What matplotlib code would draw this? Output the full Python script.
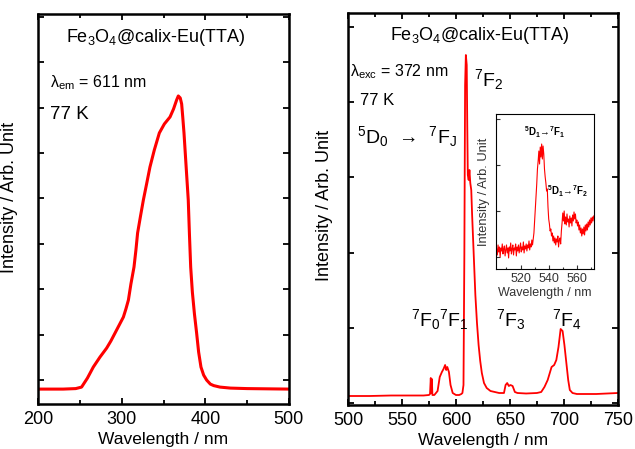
import matplotlib
matplotlib.use("Agg")
import matplotlib.pyplot as plt
import numpy as np

plt.rcParams['font.family'] = ['Liberation Sans', 'DejaVu Sans']
plt.rcParams['mathtext.fontset'] = 'custom'
plt.rcParams['mathtext.rm'] = 'Liberation Sans'
plt.rcParams['mathtext.it'] = 'Liberation Sans:italic'
plt.rcParams['mathtext.bf'] = 'Liberation Sans:bold'

# excitation spectrum (lambda_em = 611 nm)
exc_wl = [200, 230, 245, 252, 259, 266, 274, 282, 287, 292, 297, 302, 305, 308,
          311, 314.7, 317, 319, 322.5, 325.9, 330, 333.8, 339, 345, 351, 357.8,
          362, 365.7, 367.7, 370, 371.7, 373, 374.5, 377, 379.6, 381, 382.5,
          384.5, 387, 389.6, 392, 394.8, 398, 401.6, 406, 410, 417.5, 430, 450, 500]
exc_int = [15, 15, 15.5, 17, 26, 37, 47, 56, 63, 71, 79, 87, 95, 104,
           120, 137, 154, 171, 188, 204, 221, 237, 254, 271, 280, 287,
           295, 304, 308, 306, 300, 287, 271, 238, 204, 170, 137,
           112, 90, 71, 52, 37, 29, 24, 20, 18.5, 17, 16, 15.5, 15]

# emission spectrum (lambda_exc = 372 nm)
em_wl = [500, 520, 540, 560, 570, 575, 576, 576.7, 577.2, 577.7, 578.2, 580,
         583, 585, 587, 588.5, 590, 591, 592, 593.5, 595, 597, 600, 603, 605,
         606, 607, 607.8, 608.5, 609.2, 610, 610.5, 611, 611.8, 612.5, 613.3,
         614.2, 615, 616.5, 618, 619.5, 621, 622.5, 624, 626, 628.5, 632, 636,
         640, 644.5, 646, 647.5, 649, 650.5, 652.5, 654.6, 657, 665, 675, 679,
         682, 685, 688.6, 691, 693, 695, 697, 698.8, 700.5, 702.5, 704, 705.5,
         708, 712, 720, 730, 740, 750]
em_int = [9, 9, 9.5, 9.5, 9.5, 10, 11, 27, 12, 26, 10, 10,
          14, 28, 33, 36, 40, 35, 38, 33, 20, 12, 10, 10, 11,
          12, 20, 150, 320, 350, 340, 280, 230, 225, 235, 222,
          215, 190, 150, 110, 82, 60, 44, 32, 22, 17, 14, 13,
          12, 12, 20, 22, 19, 20, 19, 13, 12, 11.5, 12, 13,
          18, 25, 38, 40, 45, 58, 76, 74, 60, 40, 25, 15,
          12, 11, 11, 11, 11.5, 12]

# inset: 5D1 region, sampled every 0.5 nm from 503 to 572 nm
inset_start, inset_stop, inset_step = 503, 572, 0.5
inset_int = [20, 14, 24, 17, 22, 12, 21, 18, 25, 15,
             20, 23, 13, 19, 24, 16, 21, 11, 22, 18,
             26, 15, 20, 24, 14, 21, 19, 25, 13, 22,
             18, 24, 16, 21, 26, 17, 22, 19, 27, 16,
             23, 20, 25, 18, 24, 21, 28, 19, 25, 22,
             29, 24, 30, 36, 48, 60, 72, 85, 100, 108,
             118, 105, 122, 112, 125, 110, 123, 115, 100, 92,
             86, 78, 80, 62, 50, 45, 38, 40, 33, 36,
             28, 33, 26, 31, 24, 30, 27, 33, 22, 29,
             31, 25, 38, 46, 56, 48, 58, 45, 52, 44,
             55, 47, 50, 42, 53, 46, 51, 43, 54, 48,
             57, 50, 55, 46, 49, 43, 47, 39, 44, 36,
             41, 33, 40, 35, 42, 34, 44, 38, 45, 39,
             47, 42, 49, 44, 51, 46, 52, 48, 53]
inset_wl = np.arange(inset_start, inset_stop + 0.01, inset_step)

red = '#ff0000'

fig = plt.figure(figsize=(6.35, 4.49), dpi=100)


def style_axes(ax, lw=1.8):
    for s in ax.spines.values():
        s.set_linewidth(lw)
    ax.tick_params(which='both', direction='in', top=True, right=True,
                   labelsize=13, pad=5, width=1.3)
    ax.tick_params(which='major', length=4.5)
    ax.tick_params(which='minor', length=3)
    ax.set_yticklabels([])


# ---- left: excitation
ax1 = fig.add_axes([0.060, 0.100, 0.395, 0.869])
ax1.plot(exc_wl, exc_int, color=red, lw=2.2)
ax1.set_xlim(200, 500)
ax1.set_ylim(0, 390)
ax1.set_xticks([200, 300, 400, 500])
ax1.set_xticks([250, 350, 450], minor=True)
ax1.set_yticks(np.arange(24, 390, 45.4))
style_axes(ax1)
ax1.set_xlabel('Wavelength / nm', fontsize=12.5, labelpad=3)
ax1.set_ylabel('Intensity / Arb. Unit', fontsize=13)
ax1.yaxis.set_label_coords(-0.08, 0.53)
ax1.text(341, 366, 'Fe$_3$O$_4$@calix-Eu(TTA)', fontsize=13, ha='center', va='center')
ax1.text(214, 321, 'λ$_{\\mathrm{em}}$ = 611 nm', fontsize=11.5, ha='left', va='center')
ax1.text(214, 289, '77 K', fontsize=13.5, ha='left', va='center')

# ---- right: emission
ax2 = fig.add_axes([0.548, 0.098, 0.425, 0.873])
ax2.plot(em_wl, em_int, color=red, lw=1.3)
ax2.set_xlim(500, 750)
ax2.set_ylim(0, 392)
ax2.set_xticks([500, 550, 600, 650, 700, 750])
ax2.set_xticks([525, 575, 625, 675, 725], minor=True)
ax2.set_yticks(np.arange(1.5, 392, 75.4))
style_axes(ax2)
ax2.set_xlabel('Wavelength / nm', fontsize=12.5, labelpad=3)
ax2.set_ylabel('Intensity / Arb. Unit', fontsize=13)
ax2.yaxis.set_label_coords(-0.056, 0.51)
ax2.text(622, 370, 'Fe$_3$O$_4$@calix-Eu(TTA)', fontsize=13, ha='center', va='center')
ax2.text(501.5, 333, 'λ$_{\\mathrm{exc}}$ = 372 nm', fontsize=11.5, ha='left', va='center')
ax2.text(511, 305, '77 K', fontsize=12, ha='left', va='center')
ax2.text(508, 268, '$^5$D$_0$  →  $^7$F$_\\mathrm{J}$', fontsize=14, ha='left', va='center')
ax2.text(617, 325, '$^7$F$_2$', fontsize=14, ha='left', va='center')
ax2.text(558, 85, '$^7$F$_0$$^7$F$_1$', fontsize=14, ha='left', va='center')
ax2.text(637.5, 85, '$^7$F$_3$', fontsize=14, ha='left', va='center')
ax2.text(689, 85, '$^7$F$_4$', fontsize=14, ha='left', va='center')

# ---- inset
axi = fig.add_axes([0.781, 0.401, 0.154, 0.345])
axi.plot(inset_wl, inset_int, color=red, lw=0.8)
axi.set_xlim(502.5, 572)
axi.set_ylim(0, 155)
axi.set_xticks([520, 540, 560])
axi.set_xticks([510, 530, 550, 570], minor=True)
axi.set_yticks([12, 58, 104, 150])
for s in axi.spines.values():
    s.set_linewidth(0.8)
axi.tick_params(which='both', direction='in', labelsize=9, pad=3, width=0.8,
                colors='#333333')
axi.tick_params(which='major', length=3)
axi.tick_params(which='minor', length=1.5)
axi.set_yticklabels([])
axi.set_xlabel('Wavelength / nm', fontsize=9, labelpad=1, color='#333333')
axi.set_ylabel('Intensity / Arb. Unit', fontsize=9.3, labelpad=1, color='#333333')
axi.text(537.4, 137, '$\\mathbf{^5D_1}$→$\\mathbf{^7F_1}$', fontsize=7,
         ha='center', va='center', fontweight='bold')
axi.text(538.5, 78, '$\\mathbf{^5D_1}$→$\\mathbf{^7F_2}$', fontsize=7,
         ha='left', va='center', fontweight='bold')

fig.savefig('out.png', dpi=100)
